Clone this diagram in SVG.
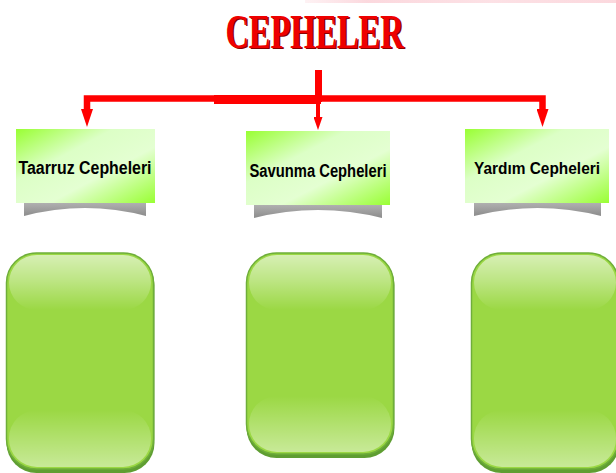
<svg xmlns="http://www.w3.org/2000/svg" width="616" height="473" viewBox="0 0 616 473">
<style>
.lbl{font-family:"Liberation Sans","DejaVu Sans",sans-serif;font-weight:bold;font-size:18px;fill:#000}
.conn{fill:none;stroke:#ff0000;stroke-linejoin:miter}
.sh{fill:url(#shGrad)}
.lbox{fill:url(#lblGrad)}
.big{fill:#9bd844;stroke:#6fae3a;stroke-width:1.5}
.bigsh{fill:#5f9e32}
.hiTop{fill:url(#hiTop)}
.hiBot{fill:url(#hiBot)}
</style>
<defs>
<linearGradient id="lblGrad" x1="0" y1="0" x2="1" y2="1">
<stop offset="0" stop-color="#99ff33"/>
<stop offset="0.35" stop-color="#dcffc6"/>
<stop offset="0.62" stop-color="#e4ffd2"/>
<stop offset="1" stop-color="#99ff33"/>
</linearGradient>
<linearGradient id="shGrad" x1="0" y1="0" x2="0" y2="1">
<stop offset="0" stop-color="#b0b0b0"/>
<stop offset="1" stop-color="#8c8c8c"/>
</linearGradient>
<linearGradient id="hiTop" x1="0" y1="0" x2="0" y2="1">
<stop offset="0" stop-color="#ffffff" stop-opacity="0.6"/>
<stop offset="0.45" stop-color="#ffffff" stop-opacity="0.35"/>
<stop offset="1" stop-color="#ffffff" stop-opacity="0"/>
</linearGradient>
<linearGradient id="hiBot" x1="0" y1="0" x2="0" y2="1">
<stop offset="0" stop-color="#ffffff" stop-opacity="0"/>
<stop offset="1" stop-color="#ffffff" stop-opacity="0.45"/>
</linearGradient>
<linearGradient id="pink" x1="0" y1="0" x2="1" y2="0">
<stop offset="0" stop-color="#fbd4da" stop-opacity="0.3"/>
<stop offset="0.2" stop-color="#fbd4da" stop-opacity="0.9"/>
<stop offset="0.6" stop-color="#fbd4da" stop-opacity="0.7"/>
<stop offset="1" stop-color="#fbd4da" stop-opacity="0.9"/>
</linearGradient>
<marker id="arr" viewBox="0 0 18 12" refX="0" refY="6" markerWidth="18" markerHeight="12" markerUnits="userSpaceOnUse" orient="auto-start-reverse">
<path d="M0,0 L18,6 L0,12 z" fill="#ff0000"/>
</marker>
<marker id="arrS" viewBox="0 0 13 9" refX="0" refY="4.5" markerWidth="13" markerHeight="9" markerUnits="userSpaceOnUse" orient="auto">
<path d="M0,0 L13,4.5 L0,9 z" fill="#ff0000"/>
</marker>
</defs>

<rect x="305" y="0" width="311" height="3" fill="url(#pink)"/>

<g id="title">
<text x="316" y="49" text-anchor="middle" font-family="Liberation Serif,serif" font-weight="bold" font-size="48" fill="#8a0000" textLength="178" lengthAdjust="spacingAndGlyphs">CEPHELER</text>
<text x="314.5" y="47.5" text-anchor="middle" font-family="Liberation Serif,serif" font-weight="bold" font-size="48" fill="#ee0000" textLength="178" lengthAdjust="spacingAndGlyphs">CEPHELER</text>
</g>

<g id="connectors">
<path class="conn" d="M318.5 70 V102" stroke-width="7"/>
<path class="conn" d="M87 109 V98.5 H542.5 V109" stroke-width="6.5" marker-start="url(#arr)" marker-end="url(#arr)"/>
<rect x="214" y="95" width="107" height="9" fill="#ff0000"/>
<path class="conn" d="M318 101 V117" stroke-width="4" marker-end="url(#arrS)"/>
</g>

<g id="taarruz">
<path class="sh" d="M24 203 H146 V216 Q85 200 24 216 Z"/>
<rect class="lbox" x="16" y="129" width="139" height="74"/>
<text class="lbl" x="85" y="174" text-anchor="middle" textLength="133" lengthAdjust="spacingAndGlyphs">Taarruz Cepheleri</text>
</g>

<g id="savunma">
<path class="sh" d="M254 205 H382 V218 Q318 202 254 218 Z"/>
<rect class="lbox" x="246" y="131" width="144" height="74"/>
<text class="lbl" x="318" y="176.5" text-anchor="middle" textLength="137" lengthAdjust="spacingAndGlyphs">Savunma Cepheleri</text>
</g>

<g id="yardim">
<path class="sh" d="M474 203 H601 V216 Q537.5 200 474 216 Z"/>
<rect class="lbox" x="465" y="129" width="144" height="74"/>
<text class="lbl" x="537" y="174" text-anchor="middle" textLength="126" lengthAdjust="spacingAndGlyphs" style="font-size:17px">Yardım Cepheleri</text>
</g>

<g id="box1">
<rect class="bigsh" x="6.5" y="255" width="148" height="218" rx="30"/>
<rect class="big" x="6.5" y="253" width="147" height="216" rx="30"/>
<rect class="hiTop" x="9" y="255" width="142" height="55" rx="28"/>
<rect class="hiBot" x="9" y="410" width="142" height="57" rx="28"/>
</g>

<g id="box2">
<rect class="bigsh" x="246.5" y="255" width="148" height="203" rx="30"/>
<rect class="big" x="246.5" y="253" width="147" height="201" rx="30"/>
<rect class="hiTop" x="249" y="255" width="142" height="55" rx="28"/>
<rect class="hiBot" x="249" y="396" width="142" height="56" rx="28"/>
</g>

<g id="box3">
<rect class="bigsh" x="471.5" y="255" width="148" height="218" rx="30"/>
<rect class="big" x="471.5" y="253" width="147" height="216" rx="30"/>
<rect class="hiTop" x="474" y="255" width="142" height="55" rx="28"/>
<rect class="hiBot" x="474" y="410" width="142" height="57" rx="28"/>
</g>
</svg>
